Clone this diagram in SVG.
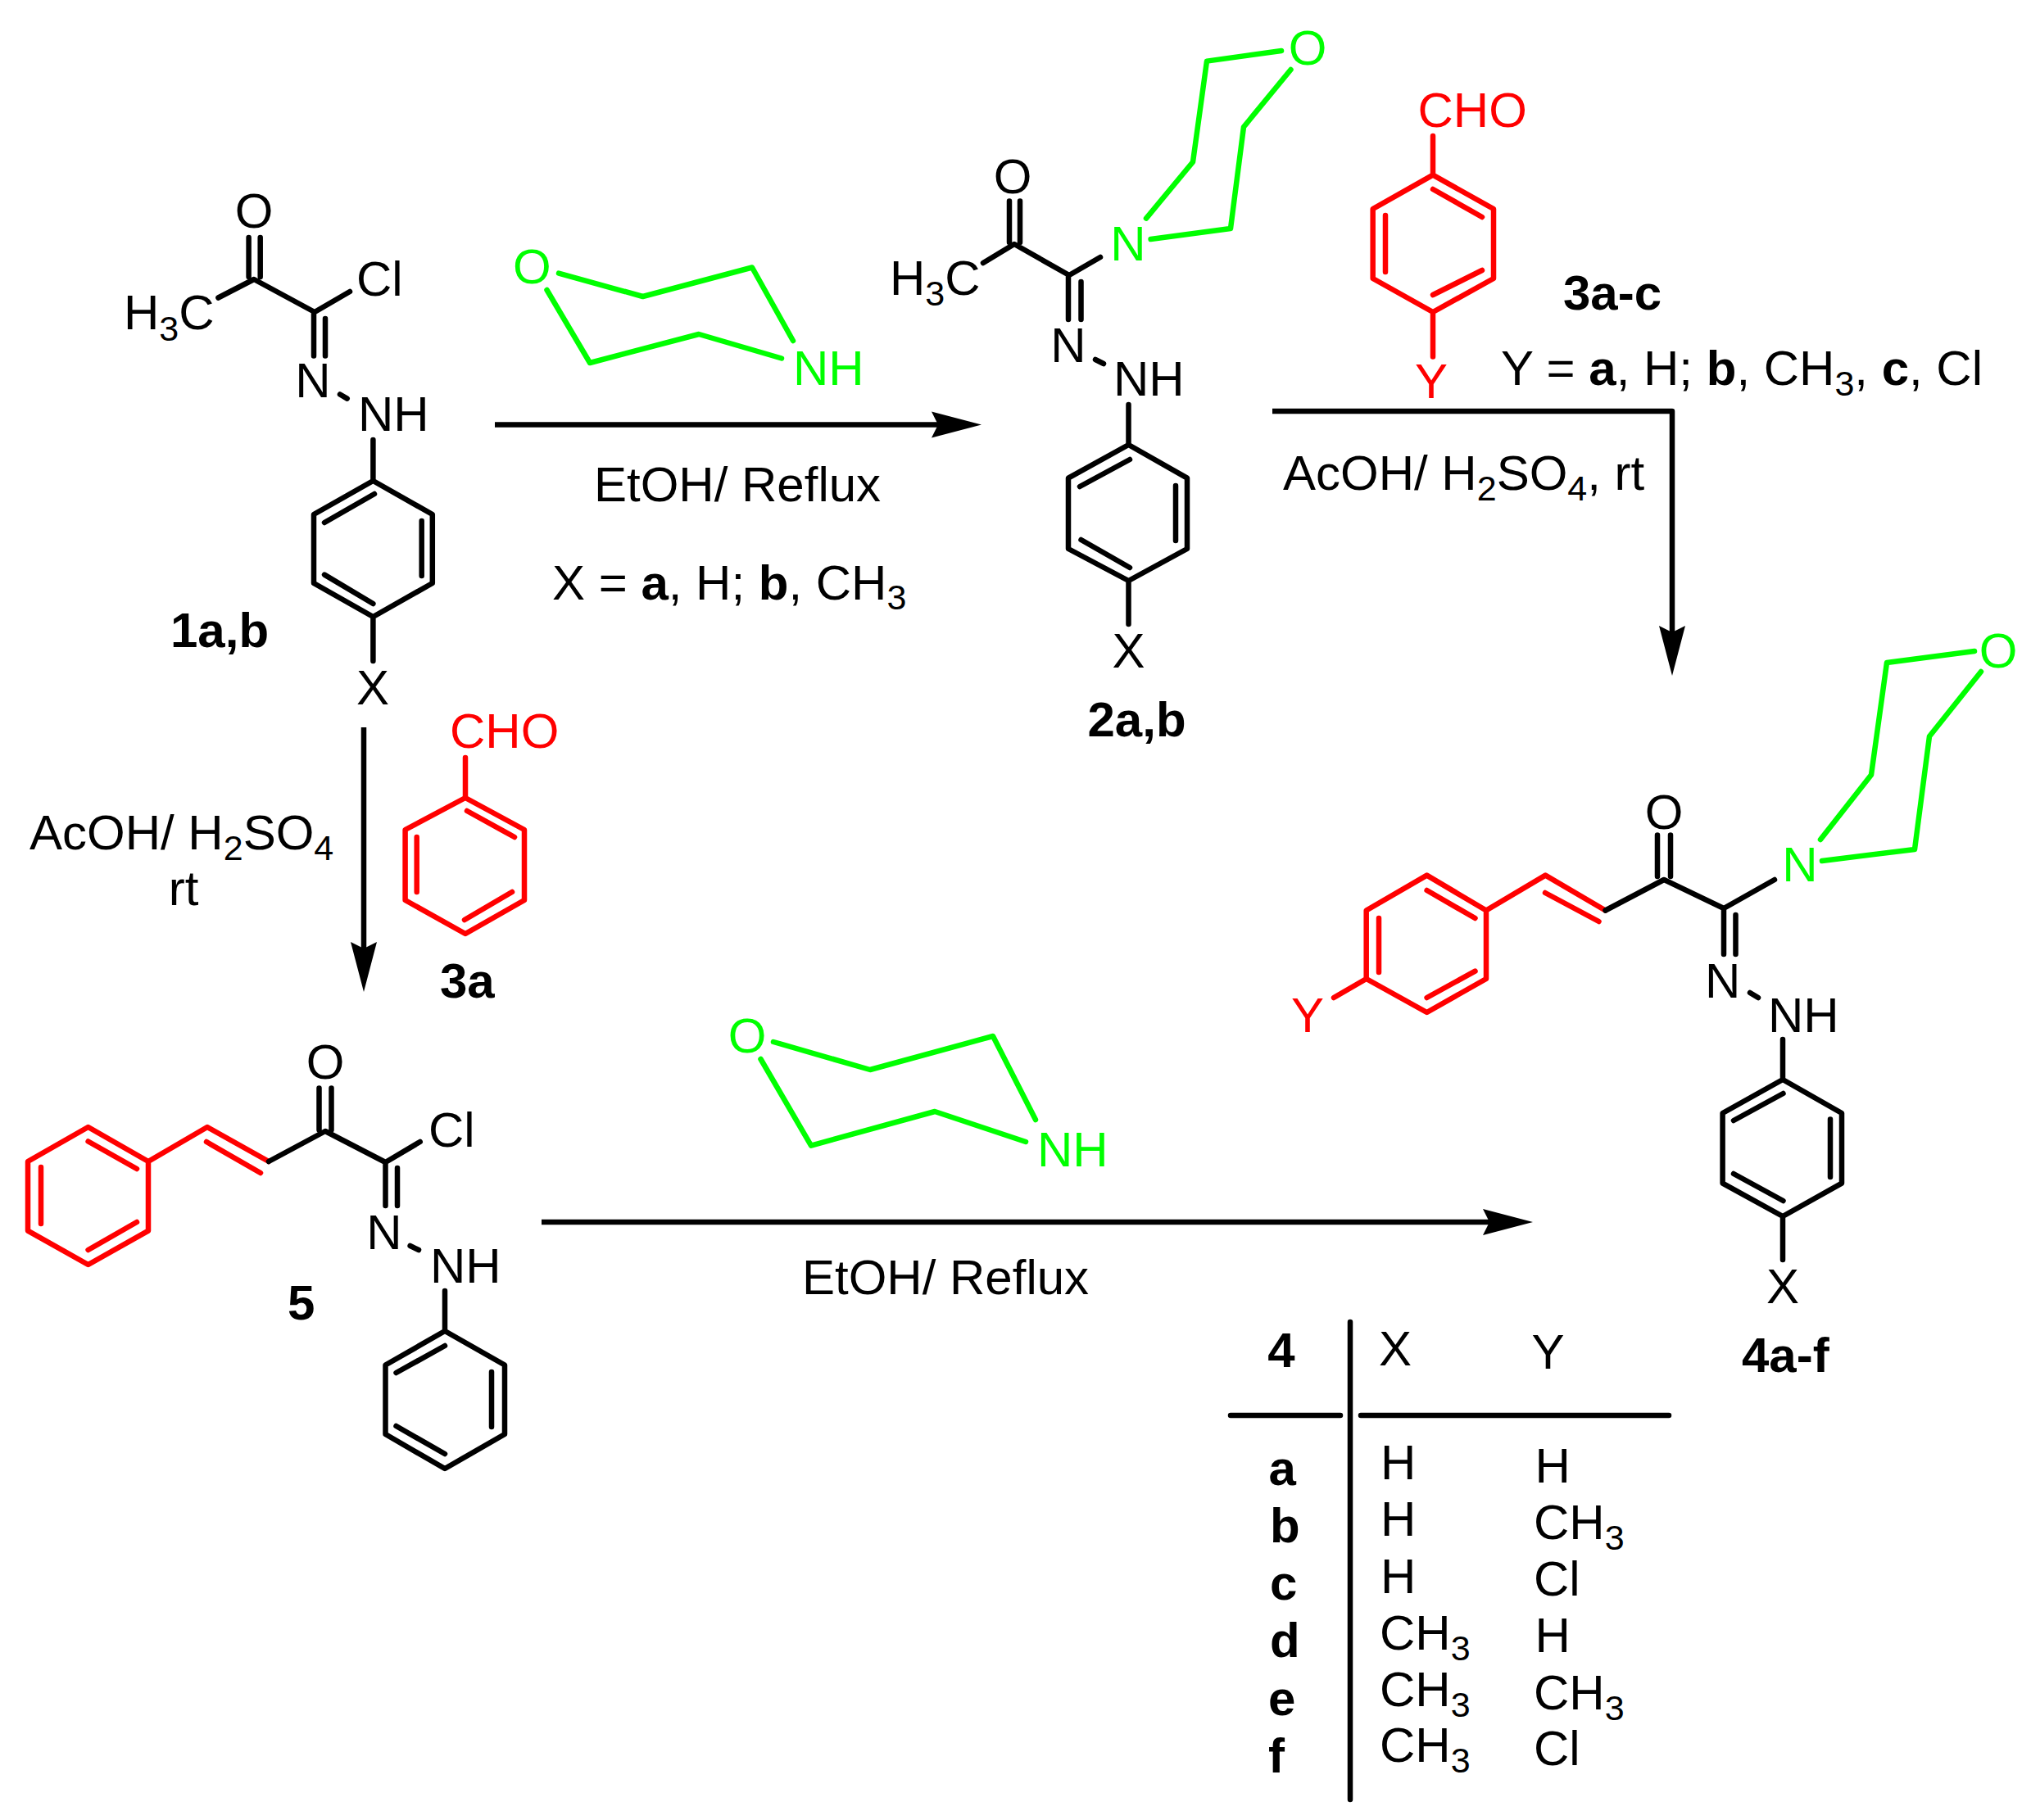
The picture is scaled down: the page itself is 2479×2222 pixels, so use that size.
<svg xmlns="http://www.w3.org/2000/svg" width="2479" height="2222" viewBox="0 0 2479 2222">
<style>
text{font-family:"Liberation Sans",Arial,sans-serif;font-size:60px;fill:#000}
.rt{fill:#f00}.gt{fill:#0f0}.m{text-anchor:middle}
.bd,.bd text,text.bd{font-weight:700}
.n{font-weight:400}.w{font-weight:700}
.s{font-size:43px}
path.k,path.r,path.g,path.c{fill:none;stroke-width:6.5;stroke-linecap:round;stroke-linejoin:round}
path.k,path.c{stroke:#000}path.r{stroke:#f00}path.g{stroke:#0f0}
</style>
<defs><marker id="head" markerUnits="userSpaceOnUse" viewBox="0 -17 62 34" markerWidth="62" markerHeight="34" refX="8" refY="0" orient="auto"><path d="M0,-16L61,0L0,16L8,0Z" fill="#000"/></marker></defs>
<rect width="2479" height="2222" fill="#fff"/>
<g id="connectors">
<path class="c" d="M604,518.5H1145" marker-end="url(#head)" style="stroke-linecap:butt"/>
<path class="c" d="M444,888V1158" marker-end="url(#head)" style="stroke-linecap:butt"/>
<path class="c" d="M661,1492H1818" marker-end="url(#head)" style="stroke-linecap:butt"/>
<path class="c" d="M1553,502H2041V772" marker-end="url(#head)" style="stroke-linecap:butt"/>
</g>
<g id="compound-1">
<path class="k" d="M303.6,290V338M317.7,290V338M266.4,363.5L310,341L384,381L427,356M383,381V434.5M397,389V434.5M415,481.5L423.7,486.6M455.4,537V587M455.4,587L527.8,628V712L455.4,753L383,712V628ZM396,638L457,603M514.7,636V703M396,701.6L455.4,737M455.4,753V807"/>
<text class="m" x="310" y="278">O</text><text x="151" y="402">H<tspan class="s" dy="14">3</tspan><tspan dy="-14">C</tspan></text><text x="435" y="361">Cl</text><text class="m" x="382" y="485">N</text><text x="437" y="526">NH</text><text class="m" x="455" y="860">X</text><text class="w" x="208" y="790">1a,b</text>
</g>
<g id="morpholine-1">
<path class="g" d="M682,333.6L784.6,362L918,326.5L968,416M667.5,354L720,443L853,408L954,437.5"/>
<text class="gt m" x="649.4" y="346">O</text><text class="gt" x="968" y="470">NH</text>
</g>
<g id="label-reflux-1"><text x="725" y="612">EtOH/ Reflux</text></g>
<g id="label-x-1"><text x="674" y="731.5">X = <tspan class="w">a</tspan>, H; <tspan class="w">b</tspan>, CH<tspan class="s" dy="12">3</tspan></text></g>
<g id="compound-3a">
<path class="r" d="M568,925V974M568,974L640,1013V1099L568,1140L494.6,1099V1013ZM570,990L628,1022M508.7,1022V1089M567,1123L625,1089"/>
<text class="rt" x="549" y="913">CHO</text><text class="w" x="537" y="1218">3a</text>
</g>
<g id="label-acoh-1"><text x="36" y="1037">AcOH/ H<tspan class="s" dy="13">2</tspan><tspan dy="-13">SO</tspan><tspan class="s" dy="13">4</tspan></text><text class="m" x="224" y="1105">rt</text></g>
<g id="compound-5">
<path class="r" d="M328,1418L253,1376L181,1418L107.6,1376L34,1418V1502.6L107.6,1544L181,1502.6V1418M252,1394L318,1432M107.6,1393.5L167,1427M50,1425V1494M107.6,1526L167,1492"/>
<path class="k" d="M389.5,1328.5V1379.5M404.5,1328.5V1379.5M328,1418L397,1381L470.5,1419L512.7,1394M470.5,1419V1472M485,1426V1472M500.6,1521L511,1526M543,1576V1625M543,1625L616,1666.5V1751L543,1793L470.5,1751V1666.5ZM483.5,1676L543,1643M600,1675V1742M483.5,1741L543,1775"/>
<text class="m" x="397" y="1317">O</text><text x="523" y="1400">Cl</text><text class="m" x="469" y="1525">N</text><text x="525" y="1566">NH</text><text class="w" x="351" y="1611">5</text>
</g>
<g id="morpholine-2">
<path class="g" d="M944,1272L1062,1306L1212,1265L1264,1367M928.5,1293L990,1398.6L1141,1357L1252,1394"/>
<text class="gt m" x="912" y="1285">O</text><text class="gt" x="1266" y="1424">NH</text>
</g>
<g id="label-reflux-2"><text x="979" y="1580">EtOH/ Reflux</text></g>
<g id="compound-2">
<path class="k" d="M1232,245.6V296M1245,245.6V296M1200,321L1238,298L1305,336L1343,314M1304,336V390M1319.5,344V390M1337,439L1347,444M1377.5,494V543M1377.5,543L1449,583.6V670L1377.5,709L1304,670V583.6ZM1318,594L1379,561M1435,593V660M1319.5,659L1379,693M1377.5,709V762"/>
<path class="g" d="M1399,266.6L1456,197.7L1473,74.6L1564,62M1404.6,292L1502,279L1518,155L1575.5,85"/>
<text class="m" x="1236" y="236">O</text><text x="1086" y="360">H<tspan class="s" dy="13">3</tspan><tspan dy="-13">C</tspan></text><text class="gt m" x="1377" y="317.6">N</text><text class="gt m" x="1596" y="79">O</text><text class="m" x="1304" y="442">N</text><text x="1359" y="483">NH</text><text class="m" x="1377.5" y="815">X</text><text class="w" x="1327.5" y="899">2a,b</text>
</g>
<g id="compound-3a-c">
<path class="r" d="M1749,166V213.7M1749,213.7L1823,255V340L1749,381L1675.7,340V255ZM1749,231L1809,265M1691,263V332M1749,360L1809,330M1749,381V435.6"/>
<text class="rt" x="1730.5" y="155">CHO</text><text class="rt m" x="1747" y="486">Y</text><text class="w" x="1908" y="377.6">3a-c</text>
</g>
<g id="label-y"><text x="1832" y="470">Y = <tspan class="w">a</tspan>, H; <tspan class="w">b</tspan>, CH<tspan class="s" dy="13">3</tspan><tspan dy="-13">, </tspan><tspan class="w">c</tspan>, Cl</text></g>
<g id="label-acoh-2"><text x="1566" y="597.6">AcOH/ H<tspan class="s" dy="13">2</tspan><tspan dy="-13">SO</tspan><tspan class="s" dy="13">4</tspan><tspan dy="-13">, rt</tspan></text></g>
<g id="compound-4">
<path class="r" d="M1959.5,1111.5L1886.3,1068.6L1814,1111.5L1741.6,1068.6L1667.7,1111.5V1195L1741.6,1236L1814,1195V1111.5M1886,1090L1951.5,1125M1741.6,1087L1800.5,1121M1683,1121V1187M1741.6,1218L1800.5,1185.6M1667.7,1195L1628,1218"/>
<path class="k" d="M2023,1019.5V1070M2039,1019.5V1070M1959.5,1111.5L2031,1074L2104,1109L2166,1074M2104,1109V1165M2118.5,1117V1165M2136,1212L2146,1218M2176,1269V1318M2176,1318L2248,1359V1444.6L2176,1485L2102.6,1444.6V1359ZM2116,1368L2176.5,1335M2234,1366.6V1437M2116,1433L2176.5,1466M2176,1485V1538"/>
<path class="g" d="M2222,1025L2284,946L2303,809L2410,795M2224,1051L2337,1037L2355,899L2418,820"/>
<text class="m" x="2031" y="1012">O</text><text class="gt m" x="2197" y="1076">N</text><text class="gt m" x="2439" y="814.5">O</text><text class="rt m" x="1596" y="1260">Y</text><text class="m" x="2102.6" y="1218">N</text><text x="2158" y="1260">NH</text><text class="m" x="2176" y="1591">X</text><text class="w" x="2126" y="1675">4a-f</text>
</g>
<g id="table">
<path class="k" d="M1648,1614V2197M1502,1728H1636M1661,1728H2037"/>
<text class="w m" x="1564" y="1669">4</text><text class="m" x="1703" y="1667">X</text><text class="m" x="1889.5" y="1671">Y</text>
<text class="w" x="1548.5" y="1813">a</text><text class="w" x="1550" y="1883">b</text><text class="w" x="1550" y="1953">c</text><text class="w" x="1550" y="2023">d</text><text class="w" x="1548" y="2094">e</text><text class="w" x="1548" y="2164">f</text>
<text x="1685" y="1806">H</text><text x="1685" y="1875">H</text><text x="1685" y="1945">H</text>
<text x="1684" y="2014">CH<tspan class="s" dy="13">3</tspan></text><text x="1684" y="2083">CH<tspan class="s" dy="13">3</tspan></text><text x="1684" y="2151">CH<tspan class="s" dy="13">3</tspan></text>
<text x="1873.6" y="1810">H</text><text x="1872" y="1879">CH<tspan class="s" dy="13">3</tspan></text><text x="1872" y="1948">Cl</text><text x="1873.6" y="2017">H</text><text x="1872" y="2087">CH<tspan class="s" dy="13">3</tspan></text><text x="1872" y="2155">Cl</text>
</g>
</svg>
